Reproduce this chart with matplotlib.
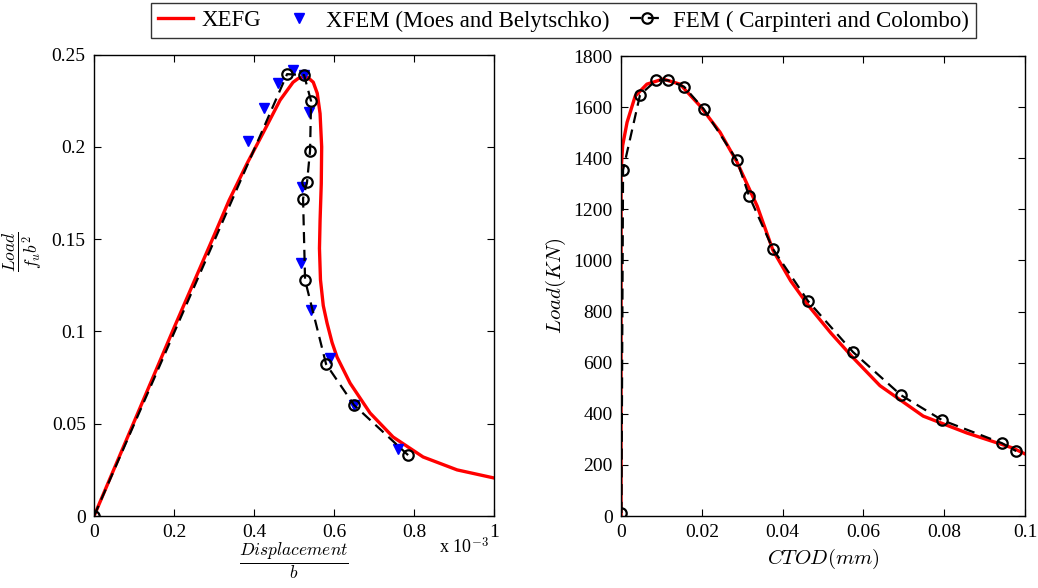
import matplotlib
matplotlib.use('Agg')
import matplotlib.pyplot as plt
from matplotlib.ticker import FixedLocator, FuncFormatter

plt.rcParams['font.family'] = ['Liberation Serif', 'DejaVu Serif']
plt.rcParams['mathtext.fontset'] = 'cm'

# left panel: normalised load vs normalised displacement (x in units of 1e-3)
xefg_disp = [0.0, 0.1, 0.2, 0.3, 0.3375, 0.3825, 0.4225, 0.465, 0.4975, 0.51, 0.5225,
             0.535, 0.548, 0.558, 0.565, 0.569, 0.568, 0.565, 0.5635, 0.566, 0.573,
             0.5825, 0.595, 0.6075, 0.64, 0.69, 0.7475, 0.8225, 0.9075, 1.0]
xefg_load = [0.0, 0.051, 0.102, 0.152, 0.171, 0.191, 0.2075, 0.2253, 0.235, 0.237, 0.238,
             0.2375, 0.235, 0.229, 0.218, 0.2, 0.18, 0.16, 0.145, 0.128, 0.114,
             0.1045, 0.094, 0.0861, 0.072, 0.0558, 0.0428, 0.032, 0.025, 0.0206]

xfem_disp = [0.385, 0.425, 0.46, 0.4975, 0.525, 0.5375, 0.52, 0.5175, 0.5425, 0.59, 0.65, 0.76]
xfem_load = [0.203, 0.221, 0.2345, 0.2416, 0.2389, 0.219, 0.178, 0.137, 0.1116, 0.0856, 0.0601, 0.0363]

fem_disp = [0.0, 0.4825, 0.525, 0.5425, 0.54, 0.5325, 0.5225, 0.5275, 0.58, 0.65, 0.785]
fem_load = [0.0, 0.2394, 0.2389, 0.2248, 0.198, 0.181, 0.172, 0.1278, 0.0823, 0.0601, 0.033]

# right panel: load vs CTOD
xefg_ctod = [0.0, 0.0, 0.0004, 0.0015, 0.0035, 0.0064, 0.0104, 0.0146, 0.0196, 0.0245,
             0.0287, 0.0337, 0.0376, 0.042, 0.0463, 0.052, 0.0574, 0.0641, 0.0748,
             0.0856, 0.097, 0.1]
xefg_kn = [0.0, 1346, 1450, 1541, 1643, 1690, 1710, 1690, 1604, 1502,
           1385, 1213, 1040, 920, 825, 715, 620, 510, 391,
           325, 266, 243]

fem_ctod = [0.0001, 0.0005, 0.0047, 0.0087, 0.0116, 0.0156, 0.0205, 0.0287, 0.0317,
            0.0376, 0.0463, 0.0574, 0.0693, 0.0795, 0.0943, 0.0978]
fem_kn = [12, 1354, 1648, 1705, 1705, 1680, 1592, 1392, 1252,
          1045, 841, 642, 473, 375, 285, 254]

fig = plt.figure(figsize=(10.38, 5.88), dpi=100)
ax1 = fig.add_axes([0.0906, 0.1224, 0.3854, 0.7848])
ax2 = fig.add_axes([0.5983, 0.1224, 0.3892, 0.7823])

red_kw = dict(color='red', lw=2.4, solid_joinstyle='round')
fem_kw = dict(color='black', ls=(0, (5, 3)), lw=1.6, marker='o', ms=7.5,
              mfc='none', mec='black', mew=1.6)

l1, = ax1.plot(xefg_disp, xefg_load, **red_kw)
l2, = ax1.plot(xfem_disp, xfem_load, ls='none', marker='v', ms=7.5, color='blue')
l3, = ax1.plot(fem_disp, fem_load, **fem_kw)

ax2.plot(xefg_ctod, xefg_kn, **red_kw)
ax2.plot(fem_ctod, fem_kn, **fem_kw)

ax1.set_xlim(0, 1)
ax1.set_ylim(0, 0.25)
ax1.xaxis.set_major_locator(FixedLocator([0, 0.2, 0.4, 0.6, 0.8, 1.0]))
ax1.yaxis.set_major_locator(FixedLocator([0, 0.05, 0.1, 0.15, 0.2, 0.25]))

ax2.set_xlim(0, 0.1)
ax2.set_ylim(0, 1800)
ax2.xaxis.set_major_locator(FixedLocator([0, 0.02, 0.04, 0.06, 0.08, 0.1]))
ax2.yaxis.set_major_locator(FixedLocator(list(range(0, 1801, 200))))

fmt = FuncFormatter(lambda v, p: ('%g' % round(v, 4)))
for ax in (ax1, ax2):
    ax.xaxis.set_major_formatter(fmt)
    ax.yaxis.set_major_formatter(fmt)
    ax.tick_params(direction='in', top=True, right=True, length=5, width=0.8,
                   labelsize=14, pad=6)
    for s in ax.spines.values():
        s.set_linewidth(1.0)

# fraction labels on the left panel placed by hand
ax1.text(-0.176, 0.572, r'$\frac{Load}{f_u b^2}$', transform=ax1.transAxes,
         fontsize=18, rotation=90, ha='center', va='center')
ax1.text(0.5, -0.0975, r'$\frac{Displacement}{b}$', transform=ax1.transAxes,
         fontsize=18, ha='center', va='center')
ax1.text(0.862, -0.08, r'x 10$^{-3}$', transform=ax1.transAxes, fontsize=13,
         ha='left', va='baseline')

ax2.set_ylabel(r'$Load(KN)$', fontsize=15, labelpad=4)
ax2.set_xlabel(r'$CTOD(mm)$', fontsize=15, labelpad=4)

leg = fig.legend([l1, l2, l3],
                 ['XEFG', 'XFEM (Moes and Belytschko)', 'FEM ( Carpinteri and Colombo)'],
                 loc='upper center', bbox_to_anchor=(0.543, 1.0), ncol=3, fontsize=16.5,
                 frameon=True, fancybox=False, edgecolor='black', handlelength=1.5,
                 handletextpad=0.4, columnspacing=0.9, borderpad=0.3, borderaxespad=0.15)
leg.get_frame().set_linewidth(1.0)

fig.savefig('out.png', dpi=100)
